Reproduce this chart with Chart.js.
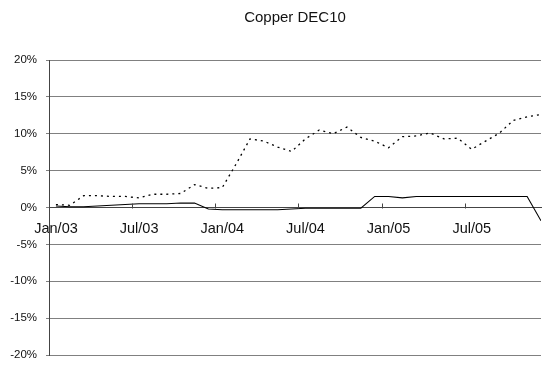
<!DOCTYPE html>
<html>
<head>
<meta charset="utf-8">
<script src="https://cdn.jsdelivr.net/npm/chart.js@4/dist/chart.umd.min.js"></script>
<style>
  html, body { margin: 0; padding: 0; background: #fff; }
</style>
</head>
<body>
<canvas id="chart" width="544" height="365"></canvas>
<script>
// Monthly values, Jan/03 .. Dec/05, in percent
const dottedSeries = [
    0.4, 0.3, 1.6, 1.6, 1.5, 1.5, 1.3, 1.8, 1.8, 1.9, 3.1, 2.6,
    2.7, 5.9, 9.3, 9.0, 8.2, 7.6, 9.3, 10.5, 10.0, 10.9, 9.5, 9.0,
    8.1, 9.6, 9.7, 10.1, 9.3, 9.4, 7.9, 9.0, 10.1, 11.8, 12.3, 12.6,
];
const solidSeries = [
    0.2, 0.1, 0.1, 0.2, 0.3, 0.4, 0.5, 0.5, 0.5, 0.6, 0.6, -0.2,
    -0.3, -0.3, -0.3, -0.3, -0.3, -0.2, -0.1, -0.1, -0.1, -0.1, -0.1, 1.5,
    1.5, 1.3, 1.5, 1.5, 1.5, 1.5, 1.5, 1.5, 1.5, 1.5, 1.5, -1.8,
];

// x axis is measured in months since the start of Jan/03
const xTickMonths = [0, 6, 12, 18, 24, 30];
const xTickLabels = ["Jan/03", "Jul/03", "Jan/04", "Jul/04", "Jan/05", "Jul/05"];
const yTicks = [-20, -15, -10, -5, 0, 5, 10, 15, 20];

const FONT = "'Liberation Sans', Arial, sans-serif";

// readings are taken mid-month
const toPoints = (values) => values.map((v, i) => ({ x: i + 0.5, y: v }));

// short tick marks pointing up from the zero line
const upTicks = {
    id: "upTicks",
    afterDatasetsDraw(chart) {
        const { ctx, scales } = chart;
        const y0 = Math.round(scales.y.getPixelForValue(0)) + 0.5;
        ctx.save();
        ctx.strokeStyle = "#444";
        ctx.lineWidth = 1;
        ctx.beginPath();
        xTickMonths.forEach((m) => {
            const x = Math.round(scales.x.getPixelForValue(m)) + 0.5;
            ctx.moveTo(x, y0);
            ctx.lineTo(x, y0 - 5);
        });
        ctx.stroke();
        ctx.restore();
    },
};

new Chart(document.getElementById("chart"), {
    type: "line",
    data: {
        datasets: [
            {
                data: toPoints(dottedSeries),
                borderColor: "#000",
                borderWidth: 1.3,
                borderDash: [2, 4],
                pointRadius: 0,
                tension: 0,
            },
            {
                data: toPoints(solidSeries),
                borderColor: "#000",
                borderWidth: 1.1,
                pointRadius: 0,
                tension: 0,
            },
        ],
    },
    options: {
        responsive: false,
        animation: false,
        layout: { padding: { left: 0, right: 3, top: 0, bottom: 10 } },
        plugins: {
            legend: { display: false },
            tooltip: { enabled: false },
            title: {
                display: true,
                fullSize: false,
                text: "Copper DEC10",
                color: "#111",
                font: { family: FONT, size: 15, weight: "normal" },
                padding: { top: 9, bottom: 33 },
            },
        },
        scales: {
            x: {
                type: "linear",
                position: { y: 0 },
                min: 0,
                max: 35.5,
                afterBuildTicks: (scale) => {
                    scale.ticks = xTickMonths.map((m) => ({ value: m }));
                },
                ticks: {
                    color: "#111",
                    font: { family: FONT, size: 14.5 },
                    padding: 13,
                    labelOffset: 7,
                    maxRotation: 0,
                    callback: (value) => xTickLabels[xTickMonths.indexOf(value)] ?? "",
                },
                grid: { display: false, drawTicks: false },
                border: { display: true, color: "#444", width: 1 },
            },
            y: {
                min: -20,
                max: 20,
                afterBuildTicks: (scale) => {
                    scale.ticks = yTicks.map((v) => ({ value: v }));
                },
                // fixed gutter; the label padding should not push the plot up
                afterFit: (scale) => {
                    scale.width = 49;
                    scale.paddingBottom = 0;
                },
                ticks: {
                    color: "#111",
                    font: { family: FONT, size: 11.5 },
                    padding: 9,
                    callback: (value) => `${value}%`,
                },
                grid: { color: "#808080", lineWidth: 1, tickLength: 3 },
                border: { display: true, color: "#444", width: 1 },
            },
        },
    },
    plugins: [upTicks],
});
</script>
</body>
</html>
